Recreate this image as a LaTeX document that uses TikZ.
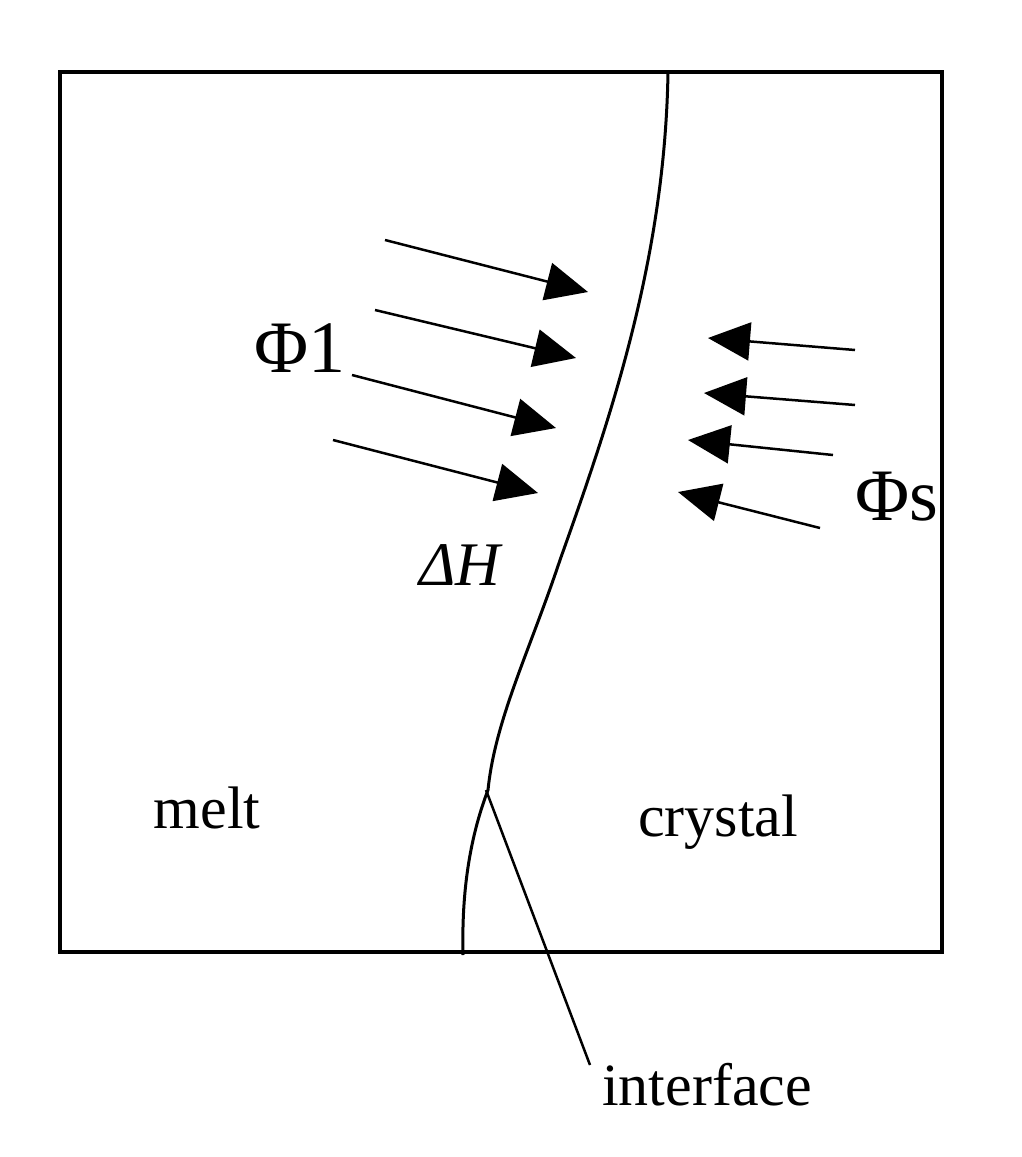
\documentclass[tikz,border=0pt]{standalone}
\usepackage{fontspec}
\setmainfont{Liberation Serif}
\usetikzlibrary{arrows.meta}
\begin{document}
\begin{tikzpicture}[x=1pt,y=-1pt,
  flux/.style={line width=2.5pt,-{Triangle[length=42pt,width=38pt]}},
  lbl/.style={font=\fontsize{60}{64}\selectfont},
  big/.style={font=\fontsize{74}{78}\selectfont}]
\useasboundingbox (0,0) rectangle (1021,1157);
\draw[line width=3.5pt] (60,72) rectangle (942,952);
\draw[line width=3pt] (668,72) .. controls (665,260) and (610,420) .. (560,560)
  .. controls (530,650) and (495,720) .. (488,790)
  .. controls (465,850) and (462,910) .. (463,955);
\coordinate (ia) at (486,790);
\node[lbl] (iface) at (707,1085) {interface};
\draw[line width=2.5pt] (ia) -- (590,1065);
\foreach \n/\a/\b/\c/\d in {a/385/240/588/292,b/375/310/576/358,c/352/375/556/428,d/333/440/538/493,
  e/855/350/708/338,f/855/405/704/393,g/833/455/688/440,h/820/528/678/492}{
  \coordinate (s\n) at (\a,\b); \coordinate (t\n) at (\c,\d);
  \draw[flux] (s\n) -- (t\n);}
\node[big] (phil) at (300,348) {Φ1};
\node[big] (phis) at (897,497) {Φs};
\node[lbl,font=\fontsize{62}{66}\selectfont\itshape] (dh) at (460,565) {ΔH};
\node[lbl] (melt) at (207,808) {melt};
\node[lbl] (cry) at (718,822) {crystal};
\end{tikzpicture}
\end{document}
